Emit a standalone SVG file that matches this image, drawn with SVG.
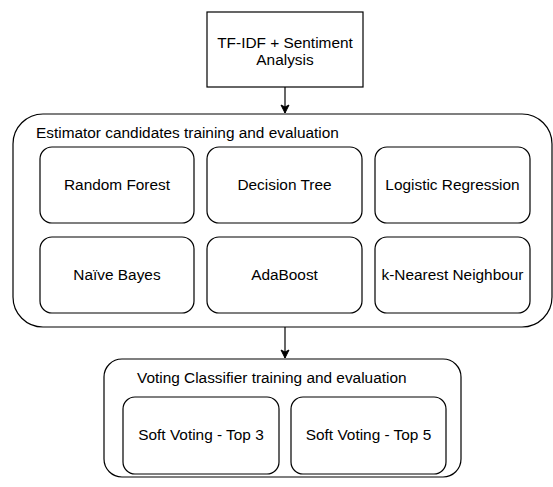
<svg xmlns="http://www.w3.org/2000/svg" width="553" height="487" viewBox="0 0 553 487">
<defs>
<marker id="ah" markerWidth="10" markerHeight="10" refX="9" refY="5" orient="auto" markerUnits="userSpaceOnUse">
<path d="M1,1 L9,5 L1,9 L3,5 Z" fill="#000" stroke="#000" stroke-width="1"/>
</marker>
<style>
.box{fill:#fff;stroke:#000;stroke-width:1.2}
.t{font-family:"Liberation Sans",Arial,sans-serif;font-size:15.4px;fill:#000}
.c{text-anchor:middle}
.e{fill:none;stroke:#000;stroke-width:1.2}
</style>
</defs>
<rect width="553" height="487" fill="#fff"/>
<g id="tfidf">
<rect class="box" x="207" y="12" width="156" height="75"/>
<text class="t c" x="285" y="48">TF-IDF + Sentiment</text>
<text class="t c" x="285" y="65">Analysis</text>
</g>
<g id="estimators">
<rect class="box" x="13" y="114" width="539" height="213" rx="30" ry="30"/>
<text class="t" x="36" y="138">Estimator candidates training and evaluation</text>
</g>
<g id="rf"><rect class="box" x="40" y="147" width="154" height="76" rx="12"/><text class="t c" x="117" y="190">Random Forest</text></g>
<g id="dt"><rect class="box" x="207" y="147" width="155" height="76" rx="12"/><text class="t c" x="284.5" y="190">Decision Tree</text></g>
<g id="lr"><rect class="box" x="375" y="147" width="155" height="76" rx="12"/><text class="t c" x="452.5" y="190">Logistic Regression</text></g>
<g id="nb"><rect class="box" x="40" y="237" width="154" height="76" rx="12"/><text class="t c" x="117" y="280">Naïve Bayes</text></g>
<g id="ada"><rect class="box" x="207" y="237" width="155" height="76" rx="12"/><text class="t c" x="284.5" y="280">AdaBoost</text></g>
<g id="knn"><rect class="box" x="375" y="237" width="155" height="76" rx="12"/><text class="t c" x="452.5" y="280">k-Nearest Neighbour</text></g>
<g id="voting">
<rect class="box" x="104" y="359" width="357" height="118" rx="18" ry="18"/>
<text class="t" x="137" y="383">Voting Classifier training and evaluation</text>
</g>
<g id="top3"><rect class="box" x="123" y="397" width="156" height="77" rx="12"/><text class="t c" x="201" y="440">Soft Voting - Top 3</text></g>
<g id="top5"><rect class="box" x="291" y="397" width="155" height="77" rx="12"/><text class="t c" x="368.5" y="440">Soft Voting - Top 5</text></g>
<g id="connectors">
<line class="e" x1="285" y1="87" x2="285" y2="113" marker-end="url(#ah)"/>
<line class="e" x1="285" y1="327" x2="285" y2="358" marker-end="url(#ah)"/>
</g>
</svg>
